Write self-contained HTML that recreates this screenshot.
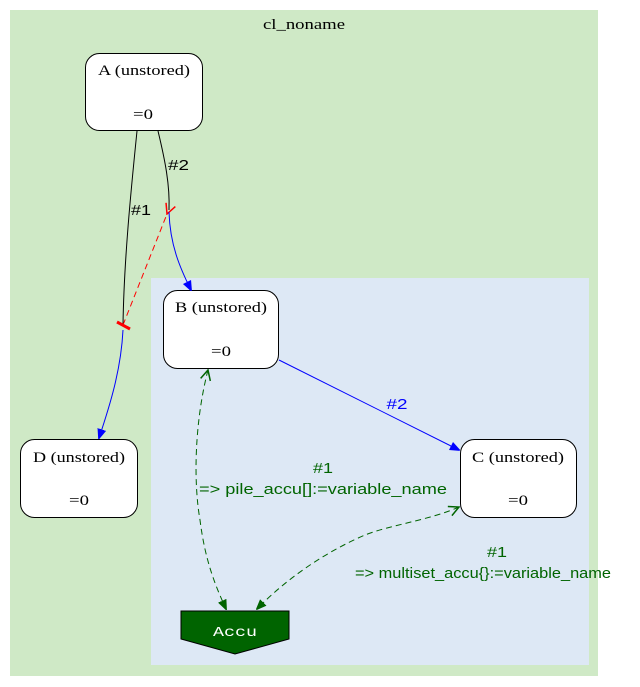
<!DOCTYPE html>
<html><head><meta charset="utf-8"><style>
html,body{margin:0;padding:0;background:#fff;}
svg{display:block}
.s{font-family:"Liberation Serif",serif;font-size:15px}
.a{font-family:"Liberation Sans",sans-serif;font-size:15px}
</style></head><body>
<svg width="640" height="687" viewBox="0 0 640 687" xmlns="http://www.w3.org/2000/svg">
<defs>
<marker id="ab" markerWidth="10" markerHeight="10" refX="9" refY="5" orient="auto" markerUnits="userSpaceOnUse"><path d="M0,1 L10,5 L0,9 z" fill="blue" stroke="blue"/></marker>
<marker id="ag" markerWidth="10" markerHeight="10" refX="9" refY="5" orient="auto" markerUnits="userSpaceOnUse"><path d="M0,1 L10,5 L0,9 z" fill="#006400" stroke="#006400"/></marker>
<marker id="av" markerWidth="12" markerHeight="12" refX="1" refY="6" orient="auto" markerUnits="userSpaceOnUse"><path d="M11,1 L1,6 L11,11" fill="none" stroke="#006400" stroke-width="1.5"/></marker>
<marker id="ar" markerWidth="12" markerHeight="12" refX="1" refY="6" orient="auto" markerUnits="userSpaceOnUse"><path d="M11,1 L1,6 L11,11" fill="none" stroke="red" stroke-width="1.5"/></marker>
</defs>
<rect x="10" y="10" width="588" height="666" fill="#cfe9c6"/>
<text x="304" y="29" text-anchor="middle" class="s" textLength="82" lengthAdjust="spacingAndGlyphs">cl_noname</text>
<rect x="151" y="278" width="438" height="387" fill="#dde8f5"/>

<rect x="85.5" y="53.5" width="117" height="77" rx="14" fill="#fff" stroke="#000"/>
<text x="144" y="75" text-anchor="middle" class="s" textLength="92" lengthAdjust="spacingAndGlyphs">A (unstored)</text>
<text x="143" y="119" text-anchor="middle" class="s" textLength="20" lengthAdjust="spacingAndGlyphs">=0</text>
<rect x="20.5" y="439.5" width="117" height="78" rx="14" fill="#fff" stroke="#000"/>
<text x="79" y="462" text-anchor="middle" class="s" textLength="92" lengthAdjust="spacingAndGlyphs">D (unstored)</text>
<text x="79" y="505" text-anchor="middle" class="s" textLength="20" lengthAdjust="spacingAndGlyphs">=0</text>
<rect x="163.5" y="290.5" width="115" height="78" rx="14" fill="#fff" stroke="#000"/>
<text x="221" y="312" text-anchor="middle" class="s" textLength="92" lengthAdjust="spacingAndGlyphs">B (unstored)</text>
<text x="221" y="356" text-anchor="middle" class="s" textLength="20" lengthAdjust="spacingAndGlyphs">=0</text>
<rect x="460.5" y="439.5" width="116" height="78" rx="14" fill="#fff" stroke="#000"/>
<text x="518" y="462" text-anchor="middle" class="s" textLength="92" lengthAdjust="spacingAndGlyphs">C (unstored)</text>
<text x="518" y="505" text-anchor="middle" class="s" textLength="20" lengthAdjust="spacingAndGlyphs">=0</text>
<path d="M181,611 L289,611 L289,639 L235,654 L181,639 z" fill="#006400" stroke="#000"/>
<text x="235" y="636" text-anchor="middle" fill="#fff" style="font-family:'Liberation Mono',monospace;font-size:14px" textLength="44" lengthAdjust="spacingAndGlyphs">Accu</text>

<path d="M137,131 C131,190 124,260 123,325" fill="none" stroke="#000"/>
<text x="131" y="215" class="a" textLength="20" lengthAdjust="spacingAndGlyphs">#1</text>
<path d="M158,131 C165,160 170,185 169,210" fill="none" stroke="#000"/>
<text x="168" y="170" class="a" textLength="21" lengthAdjust="spacingAndGlyphs">#2</text>
<path d="M123,325 L167,214" fill="none" stroke="red" stroke-dasharray="6,4" marker-end="url(#ar)"/>
<path d="M117,322 L130,329" stroke="red" stroke-width="3"/>
<path d="M169,212 C170,245 180,268 191,290" fill="none" stroke="blue" marker-end="url(#ab)"/>
<path d="M123,330 C121,370 110,405 99,438" fill="none" stroke="blue" marker-end="url(#ab)"/>
<path d="M279,360 L459,450" fill="none" stroke="blue" marker-end="url(#ab)"/>
<text x="397" y="409" text-anchor="middle" fill="blue" class="a" textLength="21" lengthAdjust="spacingAndGlyphs">#2</text>
<path d="M208,370 C195,420 193,480 200,520 C205,560 215,585 226,609" fill="none" stroke="#006400" stroke-dasharray="6,4" marker-end="url(#ag)" marker-start="url(#av)"/>
<text x="323" y="473" text-anchor="middle" fill="#006400" class="a" textLength="20" lengthAdjust="spacingAndGlyphs">#1</text>
<text x="323" y="494" text-anchor="middle" fill="#006400" class="a" textLength="248" lengthAdjust="spacingAndGlyphs">=&gt; pile_accu[]:=variable_name</text>
<path d="M459,507 C430,520 390,525 365,535 C330,550 290,575 257,609" fill="none" stroke="#006400" stroke-dasharray="6,4" marker-end="url(#ag)" marker-start="url(#av)"/>
<text x="497" y="557" text-anchor="middle" fill="#006400" class="a" textLength="20" lengthAdjust="spacingAndGlyphs">#1</text>
<text x="483" y="578" text-anchor="middle" fill="#006400" class="a" textLength="256" lengthAdjust="spacingAndGlyphs">=&gt; multiset_accu{}:=variable_name</text>
</svg>
</body></html>
